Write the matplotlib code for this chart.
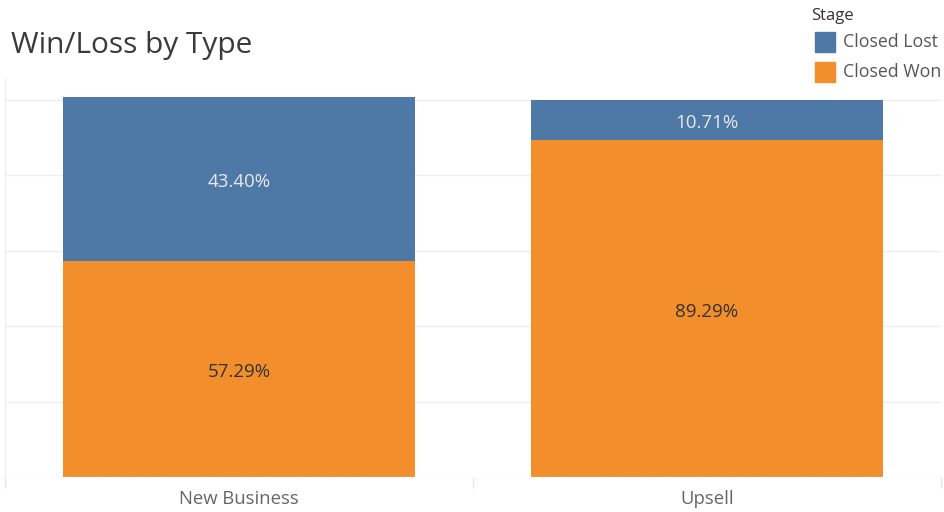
import matplotlib.pyplot as plt
from matplotlib.patches import Rectangle

plt.rcParams['font.family'] = ['Open Sans', 'DejaVu Sans']

types = ['New Business', 'Upsell']
won_pct = [57.29, 89.29]
lost_pct = [43.40, 10.71]
stages = ['Closed Lost', 'Closed Won']

blue = '#4e79a7'
orange = '#f28e2b'

fig = plt.figure(figsize=(9.44, 5.12), dpi=100)
ax = fig.add_axes([5/944, 35/512, 936/944, 399/512])

x = range(len(types))
ax.bar(x, won_pct, width=0.752, color=orange, zorder=3)
ax.bar(x, lost_pct, bottom=won_pct, width=0.752, color=blue, zorder=3)

for i in x:
    ax.annotate(f'{won_pct[i]:.2f}%', (i, won_pct[i] / 2), xytext=(0, -3),
                textcoords='offset pixels', ha='center', va='center',
                fontsize=13.5, color='#333333', zorder=4)
    ax.annotate(f'{lost_pct[i]:.2f}%', (i, won_pct[i] + lost_pct[i] / 2),
                xytext=(0, -3), textcoords='offset pixels', ha='center',
                va='center', fontsize=13.5, color='#e8e8e8', zorder=4)

ax.set_xlim(-0.5, 1.5)
ax.set_ylim(0, 105.8)
ax.set_yticks([20, 40, 60, 80, 100])
ax.yaxis.grid(True, color='#efefef', linewidth=1, zorder=0)
ax.tick_params(axis='y', length=0, labelleft=False)
ax.axhline(0, color='#dddddd', linewidth=1, linestyle=(0, (2, 1)), zorder=5)

ax.set_xticks(list(x))
ax.set_xticklabels(types, fontsize=13.3, color='#666666')
ax.tick_params(axis='x', length=0, pad=9)
ax.set_xticks([-0.5, 0.5, 1.5], minor=True)
ax.tick_params(axis='x', which='minor', length=8, color='#e6e6e6', width=1)

for side in ['top', 'right', 'bottom']:
    ax.spines[side].set_visible(False)
ax.spines['left'].set_color('#eeeeee')

fig.text(11/944, 1 - 45/512, 'Win/Loss by Type', fontsize=21.5, color='#3a3a3a',
         va='center', ha='left')

# legend drawn by hand at the top right
fig.text(811/944, 1 - 16/512, 'Stage', fontsize=12, color='#333333', va='center')
for k, (name, col) in enumerate(zip(stages, [blue, orange])):
    yc = 42 + 30 * k
    fig.patches.append(Rectangle((815/944, 1 - (yc + 10)/512), 20/944, 20/512,
                                 transform=fig.transFigure, color=col))
    fig.text(843/944, 1 - yc/512, name, fontsize=12.8, color='#555555', va='center')

fig.savefig('out.png', dpi=100)
